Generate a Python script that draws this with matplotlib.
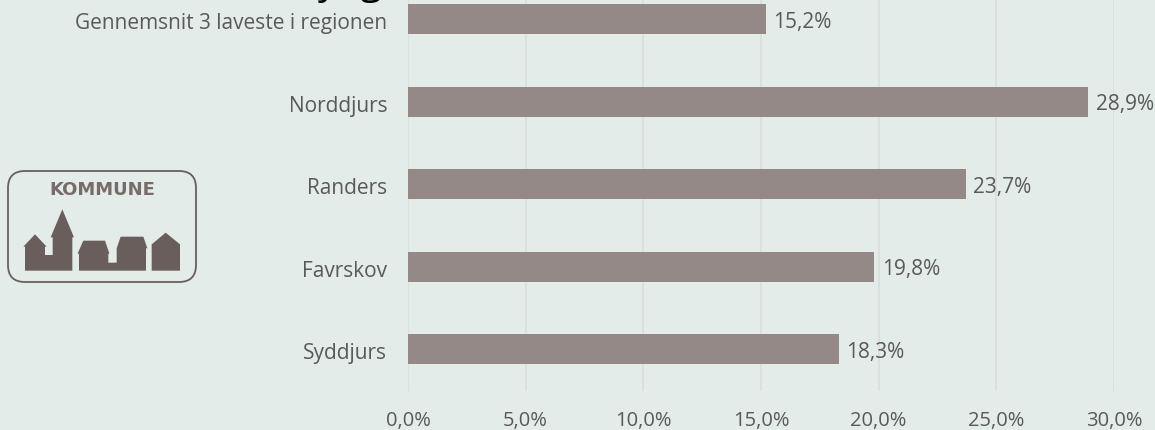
import matplotlib
matplotlib.use('Agg')
import matplotlib.pyplot as plt
from matplotlib.patches import FancyBboxPatch, Polygon
from matplotlib.transforms import ScaledTranslation

plt.rcParams['font.family'] = ['Open Sans', 'DejaVu Sans']

# Data
labels = ['Syddjurs', 'Favrskov', 'Randers', 'Norddjurs', 'Gennemsnit 3 laveste i regionen']
values = [18.3, 19.8, 23.7, 28.9, 15.2]
ticks = [0, 5, 10, 15, 20, 25, 30]
tick_labels = ['0,0%', '5,0%', '10,0%', '15,0%', '20,0%', '25,0%', '30,0%']

bg = '#E3ECE9'
bar_col = '#958987'
text_col = '#595959'
logo_col = '#6A5E5C'

fig = plt.figure(figsize=(11.55, 4.30), dpi=100, facecolor=bg)
W, H = 1155, 430

# plot area in pixels: x 0% at 408, 30% at 1114, top is above the picture
y_top = -22
y_bot = 390.5
ax = fig.add_axes([408 / W, 1 - y_bot / H, (1114 - 408) / W, (y_bot - y_top) / H])
ax.set_facecolor(bg)
ax.barh(range(len(values)), values, height=0.36, color=bar_col, zorder=3)
ax.set_xlim(0, 30)
ax.set_ylim(-0.5, len(values) - 0.5)
ax.set_yticks(range(len(values)))
ax.set_yticklabels(labels, fontsize=15, color=text_col)
ax.set_xticks(ticks)
ax.set_xticklabels(tick_labels, fontsize=14.5, color=text_col)
ax.tick_params(axis='both', length=0)
ax.tick_params(axis='y', pad=15)
ax.tick_params(axis='x', pad=15)
ax.grid(axis='x', color='#DCDCDC', linewidth=1.2, zorder=0)
for s in ax.spines.values():
    s.set_visible(False)

# the category labels sit a little below the bar centres
down = ScaledTranslation(0, -2 / 100, fig.dpi_scale_trans)
for lab in ax.get_yticklabels():
    lab.set_transform(lab.get_transform() + down)

for i, v in enumerate(values):
    ax.annotate(f'{v:.1f}%'.replace('.', ','), (v, i), xytext=(5.5, -2), textcoords='offset points',
                va='center', ha='left', fontsize=15, color=text_col, zorder=4)

# Kommune logo, drawn in pixel coordinates
lg = fig.add_axes([0, 0, 1, 1], facecolor='none')
lg.set_xlim(0, W)
lg.set_ylim(H, 0)
lg.axis('off')
lg.add_patch(FancyBboxPatch((8, 171), 188, 111, boxstyle='round,pad=0,rounding_size=17',
                            fill=False, edgecolor=logo_col, linewidth=1.3))
lg.text(102, 190, 'KOMMUNE', fontsize=13, fontweight='bold', family='DejaVu Sans', color='#776C6A',
        ha='center', va='center')

# outline points read from a 3x zoom that starts at y=150
houses = [
    [(75, 362), (75, 290), (70, 290), (105, 253), (140, 290), (135, 290), (135, 315), (158, 315), (158, 262),
     (152, 262), (187, 178), (222, 262), (217, 262), (217, 362)],
    [(237, 362), (237, 312), (233, 310), (250, 272), (315, 272), (328, 310), (325, 312), (325, 338), (350, 338),
     (350, 295), (362, 260), (430, 260), (442, 295), (438, 295), (438, 362)],
    [(455, 362), (455, 283), (497, 248), (540, 283), (540, 362)],
]
for h in houses:
    pts = [(x / 3, y / 3 + 150) for x, y in h]
    lg.add_patch(Polygon(pts, closed=True, facecolor=logo_col, edgecolor='none'))

# only the descenders of the cut off title are left in the picture
lg.text(318, -6, 'yng', fontsize=28, color='black', ha='left', va='baseline')

fig.savefig('out.png', dpi=100, facecolor=bg)
